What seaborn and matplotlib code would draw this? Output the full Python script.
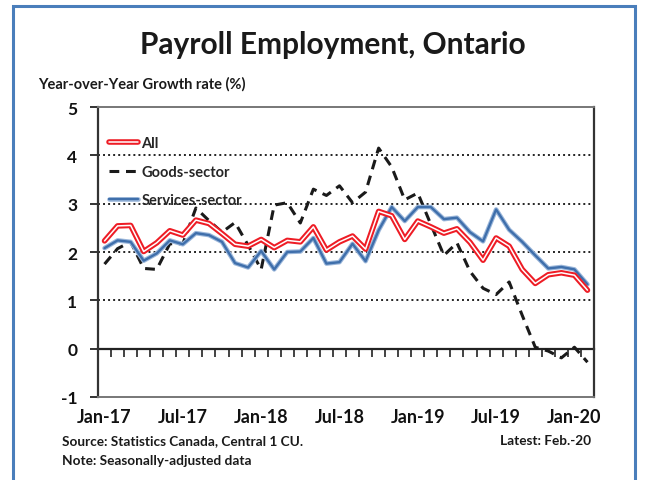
import numpy as np
import pandas as pd
import matplotlib
matplotlib.use("Agg")
import matplotlib.pyplot as plt
import matplotlib.patheffects as pe
from matplotlib.patches import Rectangle
import seaborn as sns

months = pd.date_range("2017-01-01", "2020-02-01", freq="MS").strftime("%b-%y").tolist()

all_vals = [2.23, 2.54, 2.55, 2.01, 2.19, 2.44, 2.35, 2.66, 2.59, 2.38, 2.16, 2.12,
            2.26, 2.09, 2.24, 2.21, 2.52, 2.04, 2.21, 2.33, 2.06, 2.84, 2.75, 2.26,
            2.64, 2.52, 2.39, 2.48, 2.20, 1.83, 2.29, 2.12, 1.64, 1.35, 1.53, 1.57,
            1.52, 1.21]
goods_vals = [1.75, 2.07, 2.21, 1.66, 1.64, 2.17, 2.17, 2.91, 2.65, 2.41, 2.61, 2.14,
              1.64, 2.97, 3.02, 2.60, 3.30, 3.17, 3.37, 3.02, 3.24, 4.15, 3.76, 3.08,
              3.22, 2.57, 1.93, 2.19, 1.60, 1.25, 1.12, 1.38, 0.69, 0.03, -0.05, -0.19,
              0.03, -0.28]
serv_vals = [2.08, 2.24, 2.21, 1.82, 1.97, 2.24, 2.16, 2.39, 2.35, 2.21, 1.77, 1.68,
             2.02, 1.64, 2.00, 2.01, 2.29, 1.76, 1.79, 2.17, 1.81, 2.45, 2.93, 2.64,
             2.93, 2.93, 2.68, 2.71, 2.41, 2.22, 2.88, 2.46, 2.21, 1.93, 1.66, 1.69,
             1.64, 1.33]
series_names = ["All", "Goods-sector", "Services-sector"]
tick_labels = ["Jan-17", "Jul-17", "Jan-18", "Jul-18", "Jan-19", "Jul-19", "Jan-20"]
y_ticks = [-1, 0, 1, 2, 3, 4, 5]

df = pd.DataFrame({"month": months, "idx": np.arange(len(months)),
                   "All": all_vals, "Goods-sector": goods_vals,
                   "Services-sector": serv_vals})

sns.set_theme(style="white")
plt.rcParams["font.family"] = ["Lato", "DejaVu Sans"]
plt.rcParams["font.weight"] = "bold"

fig = plt.figure(figsize=(6.49, 4.81), dpi=100)
ax = fig.add_axes([98/649, 83/481, (594-98)/649, (398-108)/481])

# border
fig.patches.append(Rectangle((13/649, -0.05), (635-13)/649, (474-0)/481 + 0.05,
                             transform=fig.transFigure, fill=False,
                             edgecolor="#4a7ebb", linewidth=2.2))

# grid lines
for v in [1, 2, 3, 4]:
    ax.axhline(v, color="#222222", lw=1.4, ls=(0, (1, 1.6)), zorder=1)

sns.lineplot(data=df, x="idx", y="Goods-sector", ax=ax, color="#1a1a1a", lw=2.2,
             label="Goods-sector", zorder=3)
ax.lines[-1].set_linestyle((0, (3.2, 2.2)))
sns.lineplot(data=df, x="idx", y="Services-sector", ax=ax, color="#3f6fab", lw=1.7,
             label="Services-sector", zorder=4)
ax.lines[-1].set_path_effects([pe.Stroke(linewidth=3.3, foreground="#9ab6da"), pe.Normal()])
sns.lineplot(data=df, x="idx", y="All", ax=ax, color="white", lw=1.1,
             label="All", zorder=5)
ax.lines[-1].set_path_effects([pe.Stroke(linewidth=4.0, foreground="#ee1c25"), pe.Normal()])

ax.set_xlim(-0.5, 37.5)
ax.set_ylim(-1, 5)
ax.set_yticks(y_ticks)
ax.set_yticklabels([str(v) for v in y_ticks], fontsize=12.5, fontweight="bold")
ax.set_xticks([0, 6, 12, 18, 24, 30, 36])
ax.set_xticklabels(tick_labels, fontsize=13, fontweight="bold")
ax.tick_params(axis="x", length=0, pad=8, colors="#111111")
ax.tick_params(axis="y", length=6, width=1.2, direction="out", left=True, pad=9,
               colors="#111111")
ax.set_xlabel("")
ax.set_ylabel("")

for s in ["left", "right"]:
    ax.spines[s].set_color("#333333")
    ax.spines[s].set_linewidth(1.6)
for s in ["top", "bottom"]:
    ax.spines[s].set_color("#777777")
    ax.spines[s].set_linewidth(1.4)
    ax.spines[s].set_linestyle((0, (1, 1)))

# zero axis with tick marks between months
sec = ax.secondary_xaxis(1/6)
sec.set_xticks(np.arange(-0.5, 38, 1))
sec.tick_params(axis="x", direction="out", length=6, width=1.2, colors="#222222",
                labelbottom=False)
sec.spines["bottom"].set_color("#222222")
sec.spines["bottom"].set_linewidth(1.6)

handles, labels = ax.get_legend_handles_labels()
order = [labels.index(n) for n in series_names]
leg = ax.legend([handles[i] for i in order], [labels[i] for i in order],
                loc="upper left", bbox_to_anchor=(-0.005, 0.945), frameon=False,
                handlelength=2.0, handletextpad=0.25, labelspacing=1.0,
                prop={"family": "Lato", "weight": "bold", "size": 10.5})

fig.text(333/649, 1 - 45/481, "Payroll Employment, Ontario", ha="center", va="center",
         fontsize=21.5, fontweight="bold", color="#1a1a1a")
fig.text(38/649, 1 - 84/481, "Year-over-Year Growth rate (%)", ha="left", va="center",
         fontsize=10.5, fontweight="bold", color="#1a1a1a")
fig.text(62/649, 1 - 441/481, "Source: Statistics Canada, Central 1 CU.", ha="left",
         va="center", fontsize=9.8, fontweight="bold", color="#1a1a1a")
fig.text(591/649, 1 - 441/481, "Latest: Feb.-20", ha="right", va="center",
         fontsize=9.8, fontweight="bold", color="#1a1a1a")
fig.text(62/649, 1 - 461/481, "Note: Seasonally-adjusted data", ha="left",
         va="center", fontsize=9.8, fontweight="bold", color="#1a1a1a")

fig.savefig("out.png", dpi=100)
